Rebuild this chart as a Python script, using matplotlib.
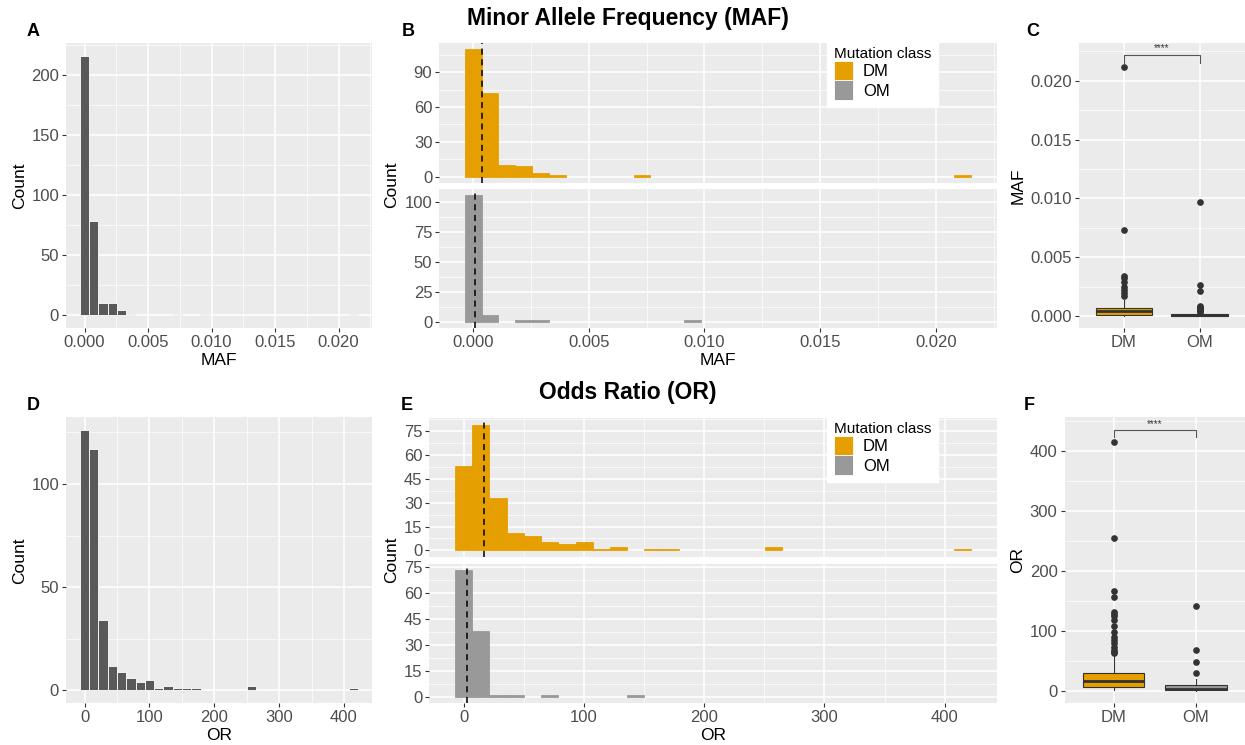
import numpy as np
import matplotlib.pyplot as plt
from matplotlib.patches import Patch
from matplotlib.ticker import MultipleLocator, FormatStrFormatter

plt.rcParams['font.family'] = ['Liberation Sans', 'DejaVu Sans']

# ---- data ----
classes = ["DM", "OM"]
class_colors = {"DM": "#E69F00", "OM": "#999999"}

# histograms: 30 bins centred on 0
maf_binwidth = 0.00073
maf_dm_counts = [110, 72, 10, 9, 3, 1, 0, 0, 0, 0, 1, 0, 0, 0, 0,
                 0, 0, 0, 0, 0, 0, 0, 0, 0, 0, 0, 0, 0, 0, 1]
maf_om_counts = [106, 6, 0, 1, 1, 0, 0, 0, 0, 0, 0, 0, 0, 1, 0,
                 0, 0, 0, 0, 0, 0, 0, 0, 0, 0, 0, 0, 0, 0, 0]
maf_medians = {"DM": 0.0004, "OM": 0.0001}

or_binwidth = 14.31
or_dm_counts = [53, 79, 33, 11, 9, 5, 4, 5, 1, 2, 0, 1, 1, 0, 0,
                0, 0, 0, 2, 0, 0, 0, 0, 0, 0, 0, 0, 0, 0, 1]
or_om_counts = [73, 38, 1, 1, 0, 1, 0, 0, 0, 0, 1, 0, 0, 0, 0,
                0, 0, 0, 0, 0, 0, 0, 0, 0, 0, 0, 0, 0, 0, 0]
or_medians = {"DM": 17, "OM": 2.5}

# boxplot summaries
maf_box = {
    "DM": dict(whislo=0.0, q1=0.0001, med=0.0004, q3=0.0007, whishi=0.00136,
               fliers=[0.0212, 0.0073, 0.00343, 0.0032, 0.00292, 0.00249,
                       0.00221, 0.00193, 0.0017]),
    "OM": dict(whislo=0.0, q1=0.00003, med=0.0001, q3=0.00015, whishi=0.0003,
               fliers=[0.0097, 0.0026, 0.0021, 0.00082, 0.00075, 0.00068,
                       0.0006, 0.0005, 0.00042, 0.00035]),
}
or_box = {
    "DM": dict(whislo=0.5, q1=6.7, med=17, q3=29, whishi=62,
               fliers=[415, 255, 167, 156, 132, 128, 125, 118, 108, 98, 89,
                       84, 80, 73, 68, 65, 63]),
    "OM": dict(whislo=0.2, q1=1.2, med=2.5, q3=10, whishi=19,
               fliers=[142, 68, 48, 29]),
}


W, H = 1245, 745
fig = plt.figure(figsize=(W / 100, H / 100), dpi=100)


def add_ax(left, top, right, bottom):
    return fig.add_axes([left / W, 1 - bottom / H, (right - left) / W, (bottom - top) / H])


def theme(ax, minor_x=True):
    ax.set_facecolor('#EBEBEB')
    for s in ax.spines.values():
        s.set_visible(False)
    ax.set_axisbelow(True)
    ax.grid(True, which='major', color='white', lw=1.1)
    ax.grid(True, which='minor', axis='y', color='white', lw=0.5)
    if minor_x:
        ax.grid(True, which='minor', axis='x', color='white', lw=0.5)
    ax.tick_params(which='major', length=3, color='#333333', labelsize=12,
                   labelcolor='#4D4D4D', pad=2)
    ax.tick_params(which='minor', length=0)


def hist(ax, counts, width, color, edge):
    counts = np.asarray(counts)
    centers = np.arange(len(counts)) * width
    keep = counts > 0
    ax.bar(centers[keep], counts[keep], width=width, color=color, edgecolor=edge, lw=0.6)


def lab(ax, xl=None, yl=None):
    if xl:
        ax.set_xlabel(xl, fontsize=12.5, labelpad=2)
    if yl:
        ax.set_ylabel(yl, fontsize=12.5, labelpad=3)


def boxes(ax, box):
    bp = ax.bxp([box[c] for c in classes], positions=[1, 2], widths=0.75,
                patch_artist=True, showcaps=False,
                boxprops=dict(edgecolor='#333333', lw=0.8),
                medianprops=dict(color='#333333', lw=2),
                whiskerprops=dict(color='#333333', lw=0.8),
                flierprops=dict(marker='o', markerfacecolor='#333333',
                                markeredgecolor='#333333', markersize=3.8))
    for patch, c in zip(bp['boxes'], classes):
        patch.set_facecolor(class_colors[c])
    ax.set_xlim(0.4, 2.6)
    ax.set_xticks([1, 2], classes)


maf_xlim = (-0.00146, 0.02263)
or_xlim = (-28.6, 443.3)

# ---- A ----
axA = add_ax(66, 43, 372, 328)
theme(axA)
hist(axA, np.add(maf_dm_counts, maf_om_counts), maf_binwidth, '#595959', 'white')
axA.set_xlim(maf_xlim)
axA.set_ylim(-10.8, 226.8)
axA.xaxis.set_major_locator(MultipleLocator(0.005))
axA.xaxis.set_minor_locator(MultipleLocator(0.0025))
axA.xaxis.set_major_formatter(FormatStrFormatter('%.3f'))
axA.yaxis.set_major_locator(MultipleLocator(50))
axA.yaxis.set_minor_locator(MultipleLocator(25))
lab(axA, 'MAF', 'Count')

# ---- B ----
axB1 = add_ax(439.3, 42.7, 996.7, 183)
axB2 = add_ax(439.3, 189, 996.7, 328)
for ax, cls, counts, ylim, step in [(axB1, "DM", maf_dm_counts, (-5.5, 115.5), 30),
                                    (axB2, "OM", maf_om_counts, (-5.3, 111.3), 25)]:
    theme(ax)
    hist(ax, counts, maf_binwidth, class_colors[cls], class_colors[cls])
    ax.axvline(maf_medians[cls], color='black', ls=(0, (4, 3)), lw=1.1)
    ax.set_xlim(maf_xlim)
    ax.set_ylim(ylim)
    ax.xaxis.set_major_locator(MultipleLocator(0.005))
    ax.xaxis.set_minor_locator(MultipleLocator(0.0025))
    ax.xaxis.set_major_formatter(FormatStrFormatter('%.3f'))
    ax.yaxis.set_major_locator(MultipleLocator(step))
    ax.yaxis.set_minor_locator(MultipleLocator(step / 2))
axB1.tick_params(axis='x', length=0, labelbottom=False)
lab(axB2, 'MAF')

# ---- C ----
axC = add_ax(1078.5, 42.7, 1245, 328)
theme(axC, minor_x=False)
boxes(axC, maf_box)
axC.plot([1, 1, 2, 2], [0.02154, 0.0222, 0.0222, 0.02154], color='#555555', lw=0.8)
axC.text(1.5, 0.02235, '****', ha='center', va='bottom', fontsize=7, color='#333333')
axC.set_ylim(-0.00102, 0.02324)
axC.yaxis.set_major_locator(MultipleLocator(0.005))
axC.yaxis.set_minor_locator(MultipleLocator(0.0025))
axC.yaxis.set_major_formatter(FormatStrFormatter('%.3f'))
lab(axC, None, 'MAF')

# ---- D ----
axD = add_ax(66, 417.3, 372, 703.3)
theme(axD)
hist(axD, np.add(or_dm_counts, or_om_counts), or_binwidth, '#595959', 'white')
axD.set_xlim(or_xlim)
axD.set_ylim(-6.3, 132.3)
axD.xaxis.set_major_locator(MultipleLocator(100))
axD.xaxis.set_minor_locator(MultipleLocator(50))
axD.yaxis.set_major_locator(MultipleLocator(50))
axD.yaxis.set_minor_locator(MultipleLocator(25))
lab(axD, 'OR', 'Count')

# ---- E ----
axE1 = add_ax(429.3, 418.3, 996.7, 556.7)
axE2 = add_ax(429.3, 564, 996.7, 703.3)
for ax, cls, counts, ylim in [(axE1, "DM", or_dm_counts, (-3.95, 82.95)),
                              (axE2, "OM", or_om_counts, (-3.65, 76.65))]:
    theme(ax)
    hist(ax, counts, or_binwidth, class_colors[cls], class_colors[cls])
    ax.axvline(or_medians[cls], color='black', ls=(0, (4, 3)), lw=1.1)
    ax.set_xlim(or_xlim)
    ax.set_ylim(ylim)
    ax.xaxis.set_major_locator(MultipleLocator(100))
    ax.xaxis.set_minor_locator(MultipleLocator(50))
    ax.yaxis.set_major_locator(MultipleLocator(15))
    ax.yaxis.set_minor_locator(MultipleLocator(7.5))
axE1.tick_params(axis='x', length=0, labelbottom=False)
lab(axE2, 'OR')

# ---- F ----
axF = add_ax(1064.5, 417.3, 1245, 703.3)
theme(axF, minor_x=False)
boxes(axF, or_box)
axF.plot([1, 1, 2, 2], [423, 434, 434, 423], color='#555555', lw=0.8)
axF.text(1.5, 436, '****', ha='center', va='bottom', fontsize=7, color='#333333')
axF.set_ylim(-21, 456)
axF.yaxis.set_major_locator(MultipleLocator(100))
axF.yaxis.set_minor_locator(MultipleLocator(50))
lab(axF, None, 'OR')

# shared facet "Count" labels
fig.text(392 / W, 1 - 185 / H, 'Count', rotation=90, ha='center', va='center', fontsize=12.5)
fig.text(392 / W, 1 - 560 / H, 'Count', rotation=90, ha='center', va='center', fontsize=12.5)

# legends
handles = [Patch(facecolor=class_colors[c], edgecolor='white', lw=0.6, label=c) for c in classes]
for ax, top in [(axB1, 40), (axE1, 415)]:
    leg = ax.legend(handles=handles, title='Mutation class', loc='upper left',
                    bbox_to_anchor=(827 / W, 1 - top / H), bbox_transform=fig.transFigure,
                    borderaxespad=0, frameon=True, fancybox=False, facecolor='white',
                    edgecolor='white', framealpha=1, fontsize=12, title_fontsize=11,
                    handlelength=1.15, handleheight=1.45, handletextpad=0.6,
                    labelspacing=0.0, borderpad=0.4, alignment='left')
    leg.set_zorder(10)

# titles and panel letters
fig.text(628 / W, 1 - 18 / H, 'Minor Allele Frequency (MAF)', ha='center', va='center',
         fontsize=16.5, fontweight='bold')
fig.text(628 / W, 1 - 393 / H, 'Odds Ratio (OR)', ha='center', va='center',
         fontsize=16.5, fontweight='bold')
for letter, x, y in [('A', 33, 32), ('B', 408, 32), ('C', 1033, 32),
                     ('D', 33, 406), ('E', 407, 406), ('F', 1029, 406)]:
    fig.text(x / W, 1 - y / H, letter, ha='center', va='center', fontsize=13, fontweight='bold')

fig.savefig('out.png', dpi=100)
